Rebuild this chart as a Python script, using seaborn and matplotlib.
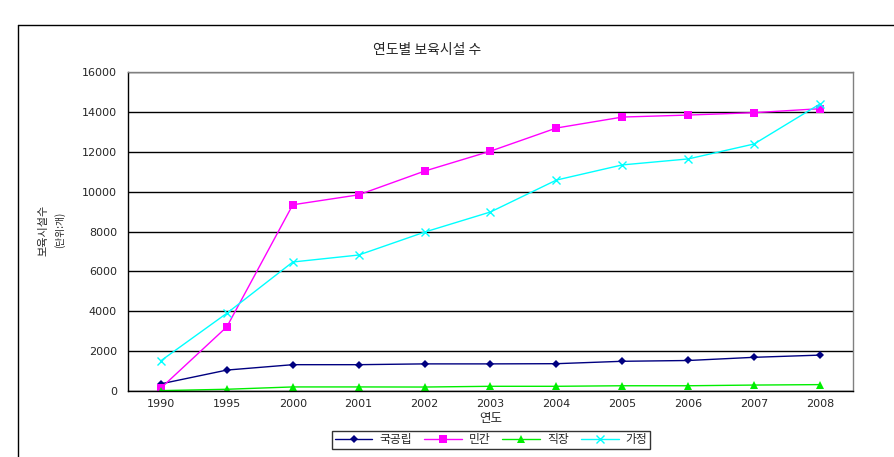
import matplotlib
matplotlib.use("Agg")
import matplotlib.pyplot as plt
import seaborn as sns
import pandas as pd
from matplotlib.lines import Line2D

years = ["1990", "1995", "2000", "2001", "2002", "2003", "2004", "2005", "2006", "2007", "2008"]
public = [360, 1050, 1320, 1320, 1360, 1360, 1370, 1490, 1530, 1690, 1800]
private = [150, 3220, 9340, 9840, 11030, 12030, 13190, 13740, 13840, 13960, 14160]
workplace = [19, 87, 204, 204, 199, 236, 236, 263, 263, 298, 320]
home = [1520, 3900, 6470, 6820, 7970, 8980, 10580, 11340, 11640, 12390, 14400]
series_names = ["국공립", "민간", "직장", "가정"]
y_ticks = [0, 2000, 4000, 6000, 8000, 10000, 12000, 14000, 16000]

rows = []
for name, vals in zip(series_names, [public, private, workplace, home]):
    for yr, v in zip(years, vals):
        rows.append({"연도": yr, "값": v, "구분": name})
df = pd.DataFrame(rows)

sns.set_theme(style="white")
plt.rcParams["font.family"] = ["Noto Sans CJK KR", "DejaVu Sans"]

fig = plt.figure(figsize=(8.95, 4.57), dpi=100)
ax = fig.add_axes([128/895, 1-391/457, (853-128)/895, (391-72)/457])

palette = {"국공립": "#000080", "민간": "#ff00ff", "직장": "#00ee00", "가정": "#00ffff"}
markers = {"국공립": "D", "민간": "s", "직장": "^", "가정": "x"}
sizes_m = {"국공립": 4.5, "민간": 6, "직장": 6, "가정": 6}

for name in series_names:
    sub = df[df["구분"] == name]
    sns.lineplot(data=sub, x="연도", y="값", ax=ax, color=palette[name],
                 marker=markers[name], markersize=sizes_m[name], linewidth=1.0,
                 markeredgewidth=1.0 if name == "가정" else 0,
                 markeredgecolor=palette[name], label=name, legend=False)

ax.set_xlim(-0.5, len(years) - 0.5)
ax.set_ylim(0, 16000)
ax.set_yticks(y_ticks)
ax.set_yticklabels([str(t) for t in y_ticks], fontsize=8, family="DejaVu Sans")
ax.set_xticks(range(len(years)))
ax.set_xticklabels(years, fontsize=8, family="DejaVu Sans")
ax.tick_params(axis="x", which="major", length=0, pad=6)
ax.set_xticks([i + 0.5 for i in range(len(years) - 1)], minor=True)
ax.tick_params(axis="x", which="minor", direction="in", length=3, color="black")
ax.tick_params(axis="y", length=0, pad=8)
ax.yaxis.grid(True, color="black", linewidth=1.0)
ax.set_axisbelow(True)
for s in ["left", "bottom"]:
    ax.spines[s].set_color("black")
    ax.spines[s].set_linewidth(1.0)
for s in ["top", "right"]:
    ax.spines[s].set_color("#808080")
    ax.spines[s].set_linewidth(1.0)

ax.set_xlabel("연도", fontsize=9, labelpad=2)
ax.set_ylabel("")
fig.text(43/895, 1-230/457, "보육시설수", rotation=90, ha="center", va="center", fontsize=8)
fig.text(60/895, 1-230/457, "(단위:개)", rotation=90, ha="center", va="center", fontsize=7)
fig.text(427/895, 1-50/457, "연도별 보육시설 수", ha="center", va="center", fontsize=10)

handles = []
for name in series_names:
    handles.append(Line2D([0], [0], color=palette[name], marker=markers[name],
                          markersize=sizes_m[name], linewidth=1.0,
                          markeredgewidth=1.0 if name == "가정" else 0,
                          markeredgecolor=palette[name]))
leg = fig.legend(handles, series_names, loc="center", ncol=4,
                 bbox_to_anchor=(491/895, 1-440/457), frameon=True, fancybox=False,
                 fontsize=8.5, handlelength=3.2, columnspacing=1.0, borderpad=0.25,
                 handletextpad=0.6)
leg.get_frame().set_edgecolor("black")
leg.get_frame().set_linewidth(1.0)

# outer chart frame (top and left visible)
fig.add_artist(Line2D([18/895, 1.0], [1-25/457, 1-25/457], color="black", linewidth=1.0))
fig.add_artist(Line2D([18/895, 18/895], [1-25/457, 0.0], color="black", linewidth=1.0))

fig.savefig("out.png", dpi=100)
